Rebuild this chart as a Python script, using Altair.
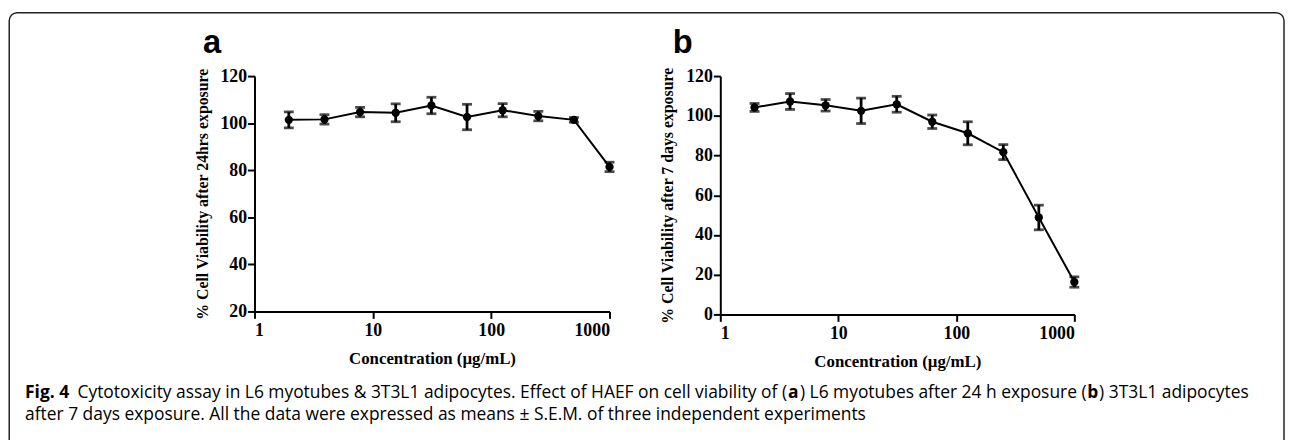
import altair as alt
import pandas as pd

# ---- data ----
conc = [1.95, 3.9, 7.8, 15.6, 31.25, 62.5, 125, 250, 500, 1000]
via_a = [101.4, 101.6, 104.7, 104.4, 107.5, 102.6, 105.5, 103.0, 101.4, 81.4]
sem_a = [3.4, 2.0, 2.0, 3.8, 3.5, 5.4, 2.8, 2.0, 1.0, 2.0]
via_b = [104.2, 107.2, 105.3, 102.5, 105.8, 97.0, 91.2, 81.7, 48.8, 16.3]
sem_b = [2.0, 4.0, 2.9, 6.4, 4.0, 3.4, 5.8, 3.8, 6.2, 2.6]

x_ticks = [1, 10, 100, 1000]
y_ticks_a = [20, 40, 60, 80, 100, 120]
y_ticks_b = [0, 20, 40, 60, 80, 100, 120]

x_title = "Concentration (µg/mL)"
y_title_a = "% Cell Viability after 24hrs exposure"
y_title_b = "% Cell Viability after 7 days exposure"

caption_l1 = ["Fig. 4", "Cytotoxicity assay in L6 myotubes & 3T3L1 adipocytes. Effect of HAEF on cell viability of (",
              "a", ") L6 myotubes after 24 h exposure (", "b", ") 3T3L1 adipocytes"]
caption_l2 = "after 7 days exposure. All the data were expressed as means ± S.E.M. of three independent experiments"

SERIF = "Liberation Serif"
SANS = "Open Sans"

df_a = pd.DataFrame({"conc": conc, "v": via_a, "sem": sem_a})
df_b = pd.DataFrame({"conc": conc, "v": via_b, "sem": sem_b})

W_A, H_A = 359, 238
W_B, H_B = 358, 241


def panel(df, yticks, ytitle):
    base = alt.Chart(df).transform_calculate(
        lo="datum.v - datum.sem", hi="datum.v + datum.sem"
    )
    xenc = alt.X("conc:Q", scale=alt.Scale(type="log", domain=[1, 1000], nice=False),
                 axis=alt.Axis(values=x_ticks, format="d", title=x_title))
    yenc = alt.Y("v:Q", scale=alt.Scale(domain=[yticks[0], yticks[-1]], nice=False),
                 axis=alt.Axis(values=yticks, title=ytitle))
    line = base.mark_line(color="black", strokeWidth=2).encode(x=xenc, y=yenc)
    err = base.mark_errorbar(ticks=True, size=10, thickness=2.8, color="black").encode(
        x="conc:Q", y=alt.Y("lo:Q", title=ytitle), y2="hi:Q")
    pts = base.mark_point(filled=True, size=70, color="black", opacity=1).encode(x="conc:Q", y="v:Q")
    return line, err, pts


def txt(s, x, y, size, font, weight="normal", align="left"):
    return alt.Chart(pd.DataFrame({"t": [s]})).mark_text(
        align=align, baseline="alphabetic", fontSize=size, font=font,
        fontWeight=weight, color="black"
    ).encode(text="t:N", x=alt.value(x), y=alt.value(y))


# page origin of panel A plot area
OX, OY = 257, 74

la, ea, pa = panel(df_a, y_ticks_a, y_title_a)
lb, eb, pb = panel(df_b, y_ticks_b, y_title_b)

border = alt.Chart(pd.DataFrame({"k": [0]})).mark_rect(
    fill=None, stroke="#222", strokeWidth=1.5, cornerRadius=8
).encode(x=alt.value(9 - OX), x2=alt.value(1298 - OX), y=alt.value(10 - OY), y2=alt.value(470 - OY))

CS = 17.6
cap_y1 = 400 - OY
cap_y2 = 422 - OY
caps = [
    txt(caption_l1[0], 25 - OX, cap_y1, CS, SANS, "bold"),
    txt(caption_l1[1], 78 - OX, cap_y1, CS, SANS),
    txt(caption_l1[2], 796.5 - OX, cap_y1, CS, SANS, "bold"),
    txt(caption_l1[3], 808.5 - OX, cap_y1, CS, SANS),
    txt(caption_l1[4], 1099 - OX, cap_y1, CS, SANS, "bold"),
    txt(caption_l1[5], 1111 - OX, cap_y1, CS, SANS),
    txt(caption_l2, 25 - OX, cap_y2, CS, SANS),
]

lab_a = txt("a", 205 - OX, 51 - OY, 33, "Liberation Sans", "bold")
lab_b = txt("b", 680 - OX, 51 - OY, 33, "Liberation Sans", "bold")

panel_a = alt.layer(la, ea, pa, border, lab_a, lab_b, *caps).properties(width=W_A, height=H_A)
panel_b = alt.layer(lb, eb, pb).properties(width=W_B, height=H_B)

chart = alt.hconcat(panel_a, panel_b, spacing=112, bounds="flush").properties(
    padding={"left": 0.25, "top": 1.25, "right": 0, "bottom": 0}
).configure_view(stroke=None).configure_axis(
    grid=False, domainColor="black", domainWidth=2, tickColor="black", tickWidth=2, tickSize=7,
    labelFont=SERIF, labelFontWeight="bold", labelFontSize=18, labelColor="black",
    titleFont=SERIF, titleFontWeight="bold", titleColor="black",
).configure_axisY(labelPadding=1, titlePadding=10, titleFontSize=16).configure_axisX(
    labelPadding=3, titlePadding=12, titleFontSize=17)

chart.save("out.html", embed_options={"renderer": "svg", "actions": False})
